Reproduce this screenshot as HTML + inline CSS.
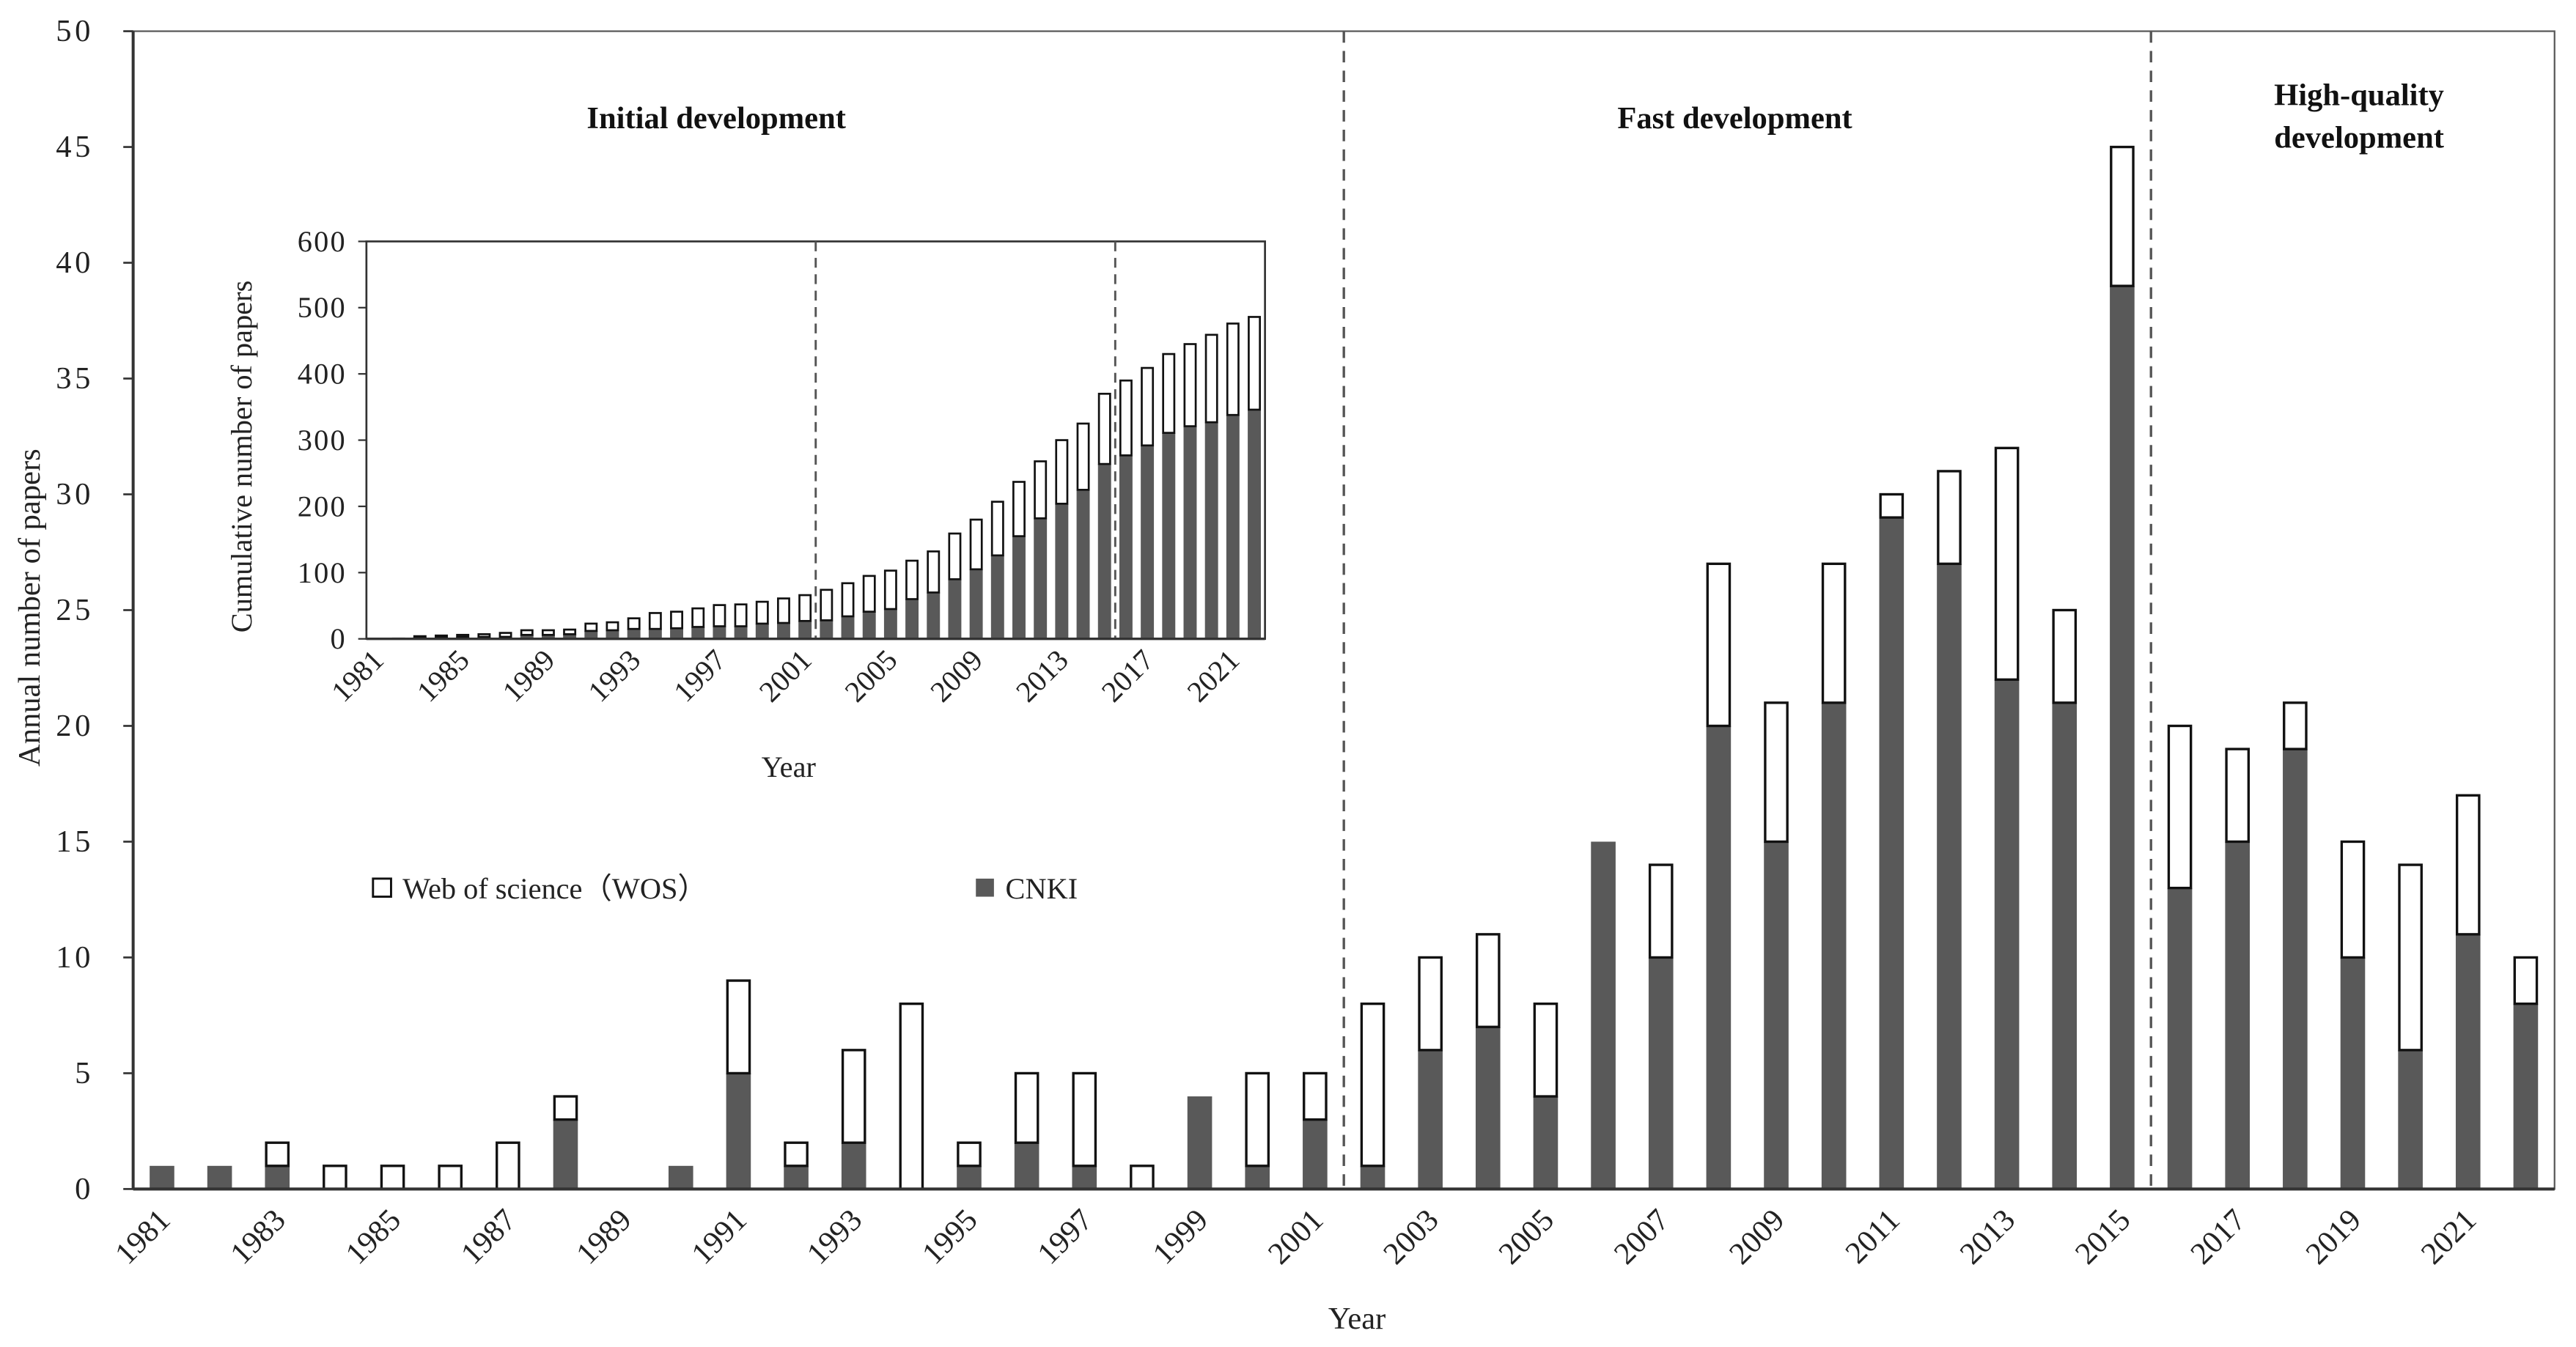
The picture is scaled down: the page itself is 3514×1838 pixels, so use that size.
<!DOCTYPE html>
<html><head><meta charset="utf-8"><style>
html,body{margin:0;padding:0;background:#fff;}
svg{display:block;font-family:"Liberation Serif",serif;}
</style></head><body>
<svg id="chart" width="3514" height="1838" viewBox="0 0 1568 820.2" xmlns="http://www.w3.org/2000/svg">
<g id="main"></g>
<g id="inset"></g>
</svg>
<script>
const years = [];
for (let y = 1981; y <= 2022; y++) years.push(y);
const totalPapers = [1,1,2,1,1,1,2,4,0,1,9,2,6,8,2,5,5,1,4,5,5,8,10,11,8,15,14,27,21,27,30,31,32,25,45,20,19,21,15,14,17,10];
const cnkiPapers  = [1,1,1,0,0,0,0,3,0,1,5,1,2,0,1,2,1,0,4,1,3,1,6,7,4,15,10,20,15,21,29,27,22,21,39,13,15,19,10,6,11,8];
const mainYTicks = [0,5,10,15,20,25,30,35,40,45,50];
const insetYTicks = [0,100,200,300,400,500,600];
const phaseBoundaries = [2001.5, 2015.5];

const NS = "http://www.w3.org/2000/svg";
function mk(parent, tag, attrs, text) {
  const e = document.createElementNS(NS, tag);
  for (const k in attrs) e.setAttribute(k, attrs[k]);
  if (text !== undefined) e.textContent = text;
  parent.appendChild(e);
  return e;
}
const DARK = "#595959";

// ---------- main chart ----------
const main = document.getElementById("main");
const L = 81, R = 1555, T = 19, B = 724, YMAX = 50;
const band = (R - L) / years.length;
const xC = i => L + band * (i + 0.5);
const xYear = yv => L + band * (yv - years[0] + 0.5);
const yS = v => B - (B - T) * v / YMAX;
const bw = 15;

let fr = mk(main, "rect", {x:L, y:T, width:R-L, height:B-T, fill:"none", stroke:"#595959", "stroke-width":1});



mainYTicks.forEach(t => {
  const y = yS(t);
  let tk = mk(main, "line", {x1:L-6, x2:L, y1:y, y2:y, stroke:"#333", "stroke-width":1.2});
  
  
  let lb = mk(main, "text", {x:L-24, y:y+6, "text-anchor":"end", "font-size":19, fill:"#222", "letter-spacing":"2"}, t);
  
  
});

years.forEach((yr, i) => {
  const cx = xC(i);
  const tot = totalPapers[i], cn = cnkiPapers[i];
  if (cn > 0) {
    let r = mk(main, "rect", {x:cx-bw/2, y:yS(cn), width:bw, height:B-yS(cn), fill:DARK});
    
    
  }
  if (tot > cn) {
    let r = mk(main, "rect", {x:cx-bw/2+0.75, y:yS(tot), width:bw-1.5, height:yS(cn)-yS(tot), fill:"#fff", stroke:"#111", "stroke-width":1.5});
    
    
  }
  if (i % 2 === 0) {
    const lx = cx + 6, ly = B + 20;
    let t = mk(main, "text", {x:lx, y:ly, "text-anchor":"end", "font-size":19, fill:"#222", transform:`rotate(-45 ${lx} ${ly})`}, yr);
    
    
  }
});
let ax = mk(main, "line", {x1:L, x2:R, y1:B, y2:B, stroke:"#333", "stroke-width":1.8});


let ay = mk(main, "line", {x1:L, x2:L, y1:T, y2:B, stroke:"#333", "stroke-width":1.8});



phaseBoundaries.forEach(p => {
  const x = xYear(p);
  let d = mk(main, "line", {x1:x, x2:x, y1:T, y2:B, stroke:"#555", "stroke-width":1.5, "stroke-dasharray":"7,5"});
  
  
});

let xt = mk(main, "text", {x:826, y:809, "text-anchor":"middle", "font-size":19, fill:"#222"}, "Year");


let yt = mk(main, "text", {x:0, y:0, "text-anchor":"middle", "font-size":19, fill:"#222", transform:"translate(24 370) rotate(-90)"}, "Annual number of papers");



[["Initial development",436,78,"phase-label-initial"],["Fast development",1056,78,"phase-label-fast"],["High-quality",1436,64,"phase-label-high-quality"],["development",1436,90,"phase-label-high-quality-2"]].forEach(a => {
  let t = mk(main, "text", {x:a[1], y:a[2], "text-anchor":"middle", "font-size":19, "font-weight":"bold", fill:"#111"}, a[0]);
  
  
});

// legend
let lg1 = mk(main, "rect", {x:227, y:535, width:11, height:11, fill:"#fff", stroke:"#111", "stroke-width":1.3});


let lt1 = mk(main, "text", {x:245, y:547, "font-size":18, fill:"#222"}, "Web of science（WOS）");


let lg2 = mk(main, "rect", {x:594, y:535, width:11, height:11, fill:DARK});


let lt2 = mk(main, "text", {x:612, y:547, "font-size":18, fill:"#222"}, "CNKI");



// ---------- inset ----------
const inset = document.getElementById("inset");
const iL = 223, iR = 770, iT = 147, iB = 389, IMAX = 600;
const iband = (iR - iL) / years.length;
const ixC = i => iL + iband * (i + 0.5);
const ixYear = yv => iL + iband * (yv - years[0] + 0.5);
const iyS = v => iB - (iB - iT) * v / IMAX;
const ibw = 8;

let ibg = mk(inset, "rect", {x:iL, y:iT, width:iR-iL, height:iB-iT, fill:"#fff", stroke:"#333", "stroke-width":1.2});



insetYTicks.forEach(t => {
  const y = iyS(t);
  let tk = mk(inset, "line", {x1:iL-5, x2:iL, y1:y, y2:y, stroke:"#333", "stroke-width":1});
  
  
  let lb = mk(inset, "text", {x:iL-12, y:y+6, "text-anchor":"end", "font-size":18, fill:"#222", "letter-spacing":"1"}, t);
  
  
});

let cumT = 0, cumC = 0;
years.forEach((yr, i) => {
  cumT += totalPapers[i]; cumC += cnkiPapers[i];
  const cx = ixC(i);
  if (cumC > 0) {
    let r = mk(inset, "rect", {x:cx-ibw/2, y:iyS(cumC), width:ibw, height:iB-iyS(cumC), fill:DARK});
    
    
  }
  if (cumT > cumC) {
    let r = mk(inset, "rect", {x:cx-ibw/2+0.6, y:iyS(cumT), width:ibw-1.2, height:iyS(cumC)-iyS(cumT), fill:"#fff", stroke:"#111", "stroke-width":1.2});
    
    
  }
  if (i % 4 === 0) {
    const lx = cx + 5, ly = iB + 14;
    let t = mk(inset, "text", {x:lx, y:ly, "text-anchor":"end", "font-size":18, fill:"#222", transform:`rotate(-45 ${lx} ${ly})`}, yr);
    
    
  }
});
phaseBoundaries.forEach(p => {
  const x = ixYear(p);
  let d = mk(inset, "line", {x1:x, x2:x, y1:iT, y2:iB, stroke:"#555", "stroke-width":1.3, "stroke-dasharray":"6,4"});
  
  
});
let iax = mk(inset, "line", {x1:iL, x2:iR, y1:iB, y2:iB, stroke:"#333", "stroke-width":1.5});


let ixt = mk(inset, "text", {x:480, y:473, "text-anchor":"middle", "font-size":18, fill:"#222"}, "Year");


let iyt = mk(inset, "text", {x:0, y:0, "text-anchor":"middle", "font-size":18, fill:"#222", transform:"translate(153 278) rotate(-90)"}, "Cumulative number of papers");


</script>
</body></html>
